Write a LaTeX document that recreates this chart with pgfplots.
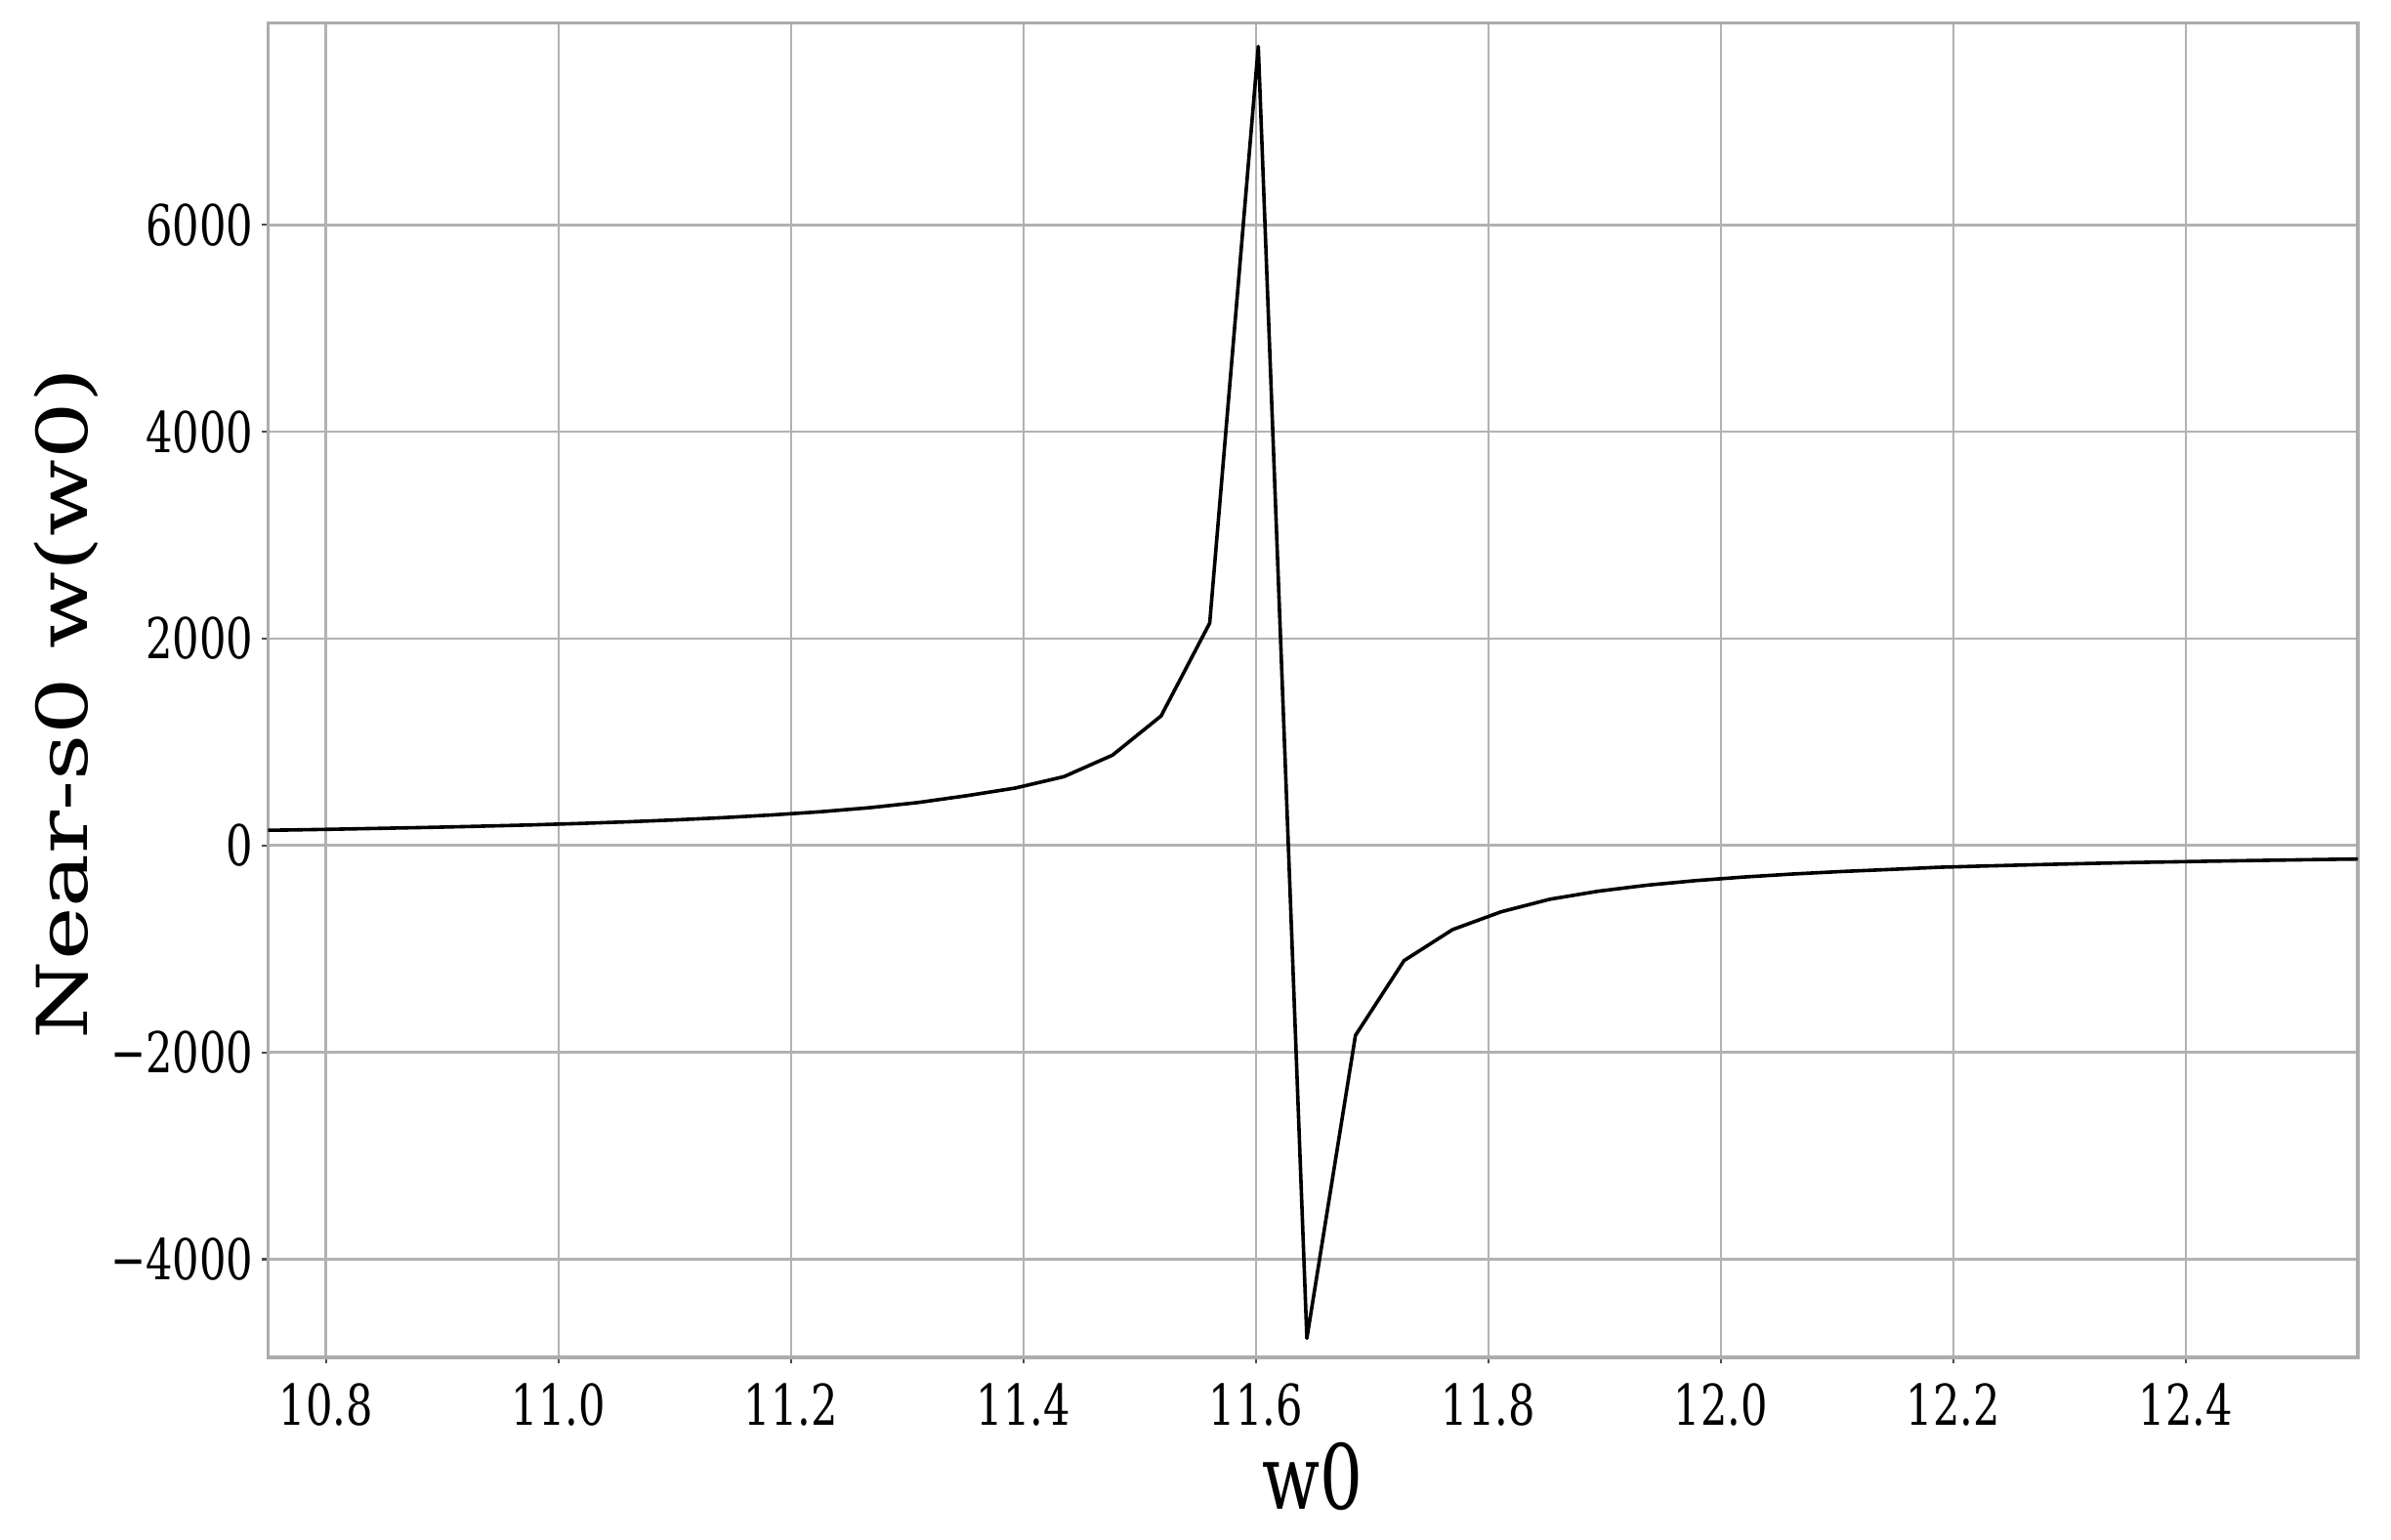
\documentclass[border=0pt]{standalone}
\usepackage{fontspec}
\setmainfont{DejaVu Serif}
\newfontfamily\tickfont[FakeStretch=0.75]{DejaVu Serif}
\usepackage{graphicx}
\usepackage{pgfplots}
\pgfplotsset{compat=1.18}
\pgfplotstableread{
x y
10.7242 145
10.7660 150
10.8078 158
10.8496 167
10.8914 176
10.9332 187
10.9750 199
11.0168 213
11.0586 229
11.1004 248
11.1422 270
11.1840 296
11.2258 327
11.2676 366
11.3094 416
11.3512 482
11.3930 556
11.4348 666
11.4766 874
11.5184 1253
11.5602 2150
11.6020 7724
11.6438 -4762
11.6856 -1835
11.7274 -1112
11.7692 -812
11.8110 -640
11.8528 -519
11.8946 -441
11.9364 -383
11.9782 -339
12.0200 -304
12.0618 -275
12.1036 -251
12.1454 -231
12.1872 -210
12.2290 -197
12.2708 -185
12.3126 -174
12.3544 -164
12.3962 -156
12.4380 -148
12.4798 -141
12.5216 -134
12.5634 -128
}\datatable
\begin{document}
\begin{tikzpicture}
\begin{axis}[
  at={(0pt,0pt)}, anchor=south west,
  scale only axis,
  width=534.9pt, height=341.7pt,
  xmin=10.75, xmax=12.548,
  ymin=-4947, ymax=7953,
  xtick={10.8,11.0,11.2,11.4,11.6,11.8,12.0,12.2,12.4},
  xticklabels={10.8,11.0,11.2,11.4,11.6,11.8,12.0,12.2,12.4},
  ytick={-4000,-2000,0,2000,4000,6000},
  yticklabels={−4000,−2000,0,2000,4000,6000},
  tick label style={font=\fontsize{14.4}{16}\tickfont},
  tick align=outside,
  major tick length=1.6pt,
  tick style={gray!60!black, line width=0.6pt},
  xtick pos=bottom, ytick pos=left,
  grid=major,
  major grid style={gray!60, line width=0.7pt},
  axis line style={gray!65, line width=0.8pt},
  xticklabel style={inner sep=0pt, yshift=-5pt},
  yticklabel style={inner sep=0pt, xshift=-2pt},
  xlabel={w0},
  xlabel style={at={(axis description cs:0.5,-0.114)}, anchor=base, inner sep=0pt, font=\fontsize{23}{26}\tickfont},
  ylabel={\scalebox{1}[0.78]{Near-s0 w(w0)}},
  ylabel style={at={(axis description cs:-0.1125,0.49)}, anchor=north, rotate=0, inner sep=0pt, font=\fontsize{23}{26}\selectfont},
]
\addplot[black, line width=0.9pt, line join=round, mark=none] table[x=x, y=y] {\datatable};
\end{axis}
\pgfresetboundingbox
\path (-68.6pt,-46.5pt) rectangle (543.4pt,347.5pt);
\end{tikzpicture}
\end{document}
